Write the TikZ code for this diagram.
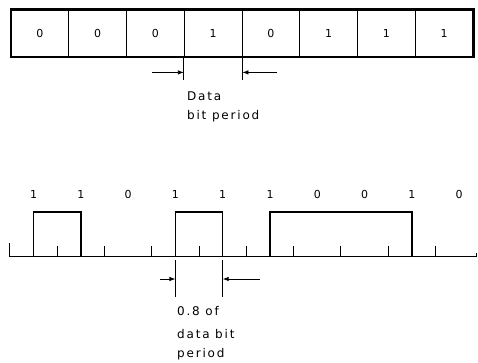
\documentclass[tikz,border=0pt]{standalone}
\usepackage{fontspec}
\setmainfont{DejaVu Sans}
\newfontfamily\lblfont[LetterSpace=15]{DejaVu Sans}
\usetikzlibrary{arrows.meta}
\tikzset{
  cell/.style={draw, line width=0.8pt, minimum width=57.75pt, minimum height=47pt, inner sep=0pt, font=\fontsize{11}{13}\selectfont},
  digit/.style={inner sep=0pt, font=\fontsize{11}{13}\selectfont},
  lbl/.style={inner sep=0pt, anchor=base west, font=\lblfont\fontsize{12}{14}\selectfont},
  ext/.style={line width=0.8pt},
  dim/.style={line width=0.8pt, -{Latex[length=6pt,width=4.5pt]}},
  wave/.style={line width=1.5pt, line join=miter},
  axis/.style={line width=1pt},
}
\begin{document}
\begin{tikzpicture}[x=1pt,y=-1pt]
\useasboundingbox (0,0) rectangle (478,363);
% top register
\foreach \b [count=\i] in {0,0,0,1,0,1,1,1}{
  \node[cell] (c\i) at ({11+57.75*(\i-0.5)},33.5) {\b};
}
\draw[line width=2.2pt] (c1.north west) rectangle (c8.south east);
% data bit period
\coordinate (e1) at ([yshift=-23pt]c4.south west);
\coordinate (e2) at ([yshift=-23pt]c4.south east);
\draw[ext] (c4.south west) -- (e1);
\draw[ext] (c4.south east) -- (e2);
\coordinate (a1) at ([yshift=8pt]e1);
\coordinate (a2) at ([yshift=8pt]e2);
\coordinate (t1) at ([xshift=-32pt]a1);
\coordinate (t2) at ([xshift=35pt]a2);
\draw[dim] (t1) -- (a1);
\draw[dim] (t2) -- (a2);
\node[lbl] (l1) at (187,101) {Data};
\node[lbl] (l2) at (187,119.5) {bit period};
% bottom waveform labels
\foreach \b [count=\i from 0] in {1,1,0,1,1,1,0,0,1,0}{
  \node[digit] (b\i) at ({33.5+47.3*\i},194) {\b};
}
% axis
\draw[axis] (9.85,243) -- (9.85,256) -- (476,256) -- (476,253);
\foreach \k in {0,...,8}{
  \draw[axis] ({57.15+47.3*\k},256) -- ({57.15+47.3*\k},246);
}
% pulses (NRZI)
\draw[wave] (b0 |- 0,256) -- (b0 |- 0,212) -- (b1 |- 0,212) -- (b1 |- 0,256);
\draw[wave] (b3 |- 0,256) -- (b3 |- 0,212) -- (b4 |- 0,212) -- (b4 |- 0,256);
\draw[wave] (b5 |- 0,256) -- (b5 |- 0,212) -- (b8 |- 0,212) -- (b8 |- 0,256);
% 0.8 of data bit period
\coordinate (f1) at (b3 |- 0,260);
\coordinate (f2) at (b4 |- 0,260);
\coordinate (g1) at (b3 |- 0,297);
\coordinate (g2) at (b4 |- 0,297);
\draw[ext] (f1) -- (g1);
\draw[ext] (f2) -- (g2);
\coordinate (h1) at (b3 |- 0,279);
\coordinate (h2) at (b4 |- 0,279);
\coordinate (u1) at ([xshift=-15pt]h1);
\coordinate (u2) at ([xshift=37pt]h2);
\draw[dim] (u1) -- (h1);
\draw[dim] (u2) -- (h2);
\node[lbl] (m1) at (177,315.5) {0.8 of};
\node[lbl] (m2) at (177,338) {data bit};
\node[lbl] (m3) at (177,357) {period};
\end{tikzpicture}
\end{document}
